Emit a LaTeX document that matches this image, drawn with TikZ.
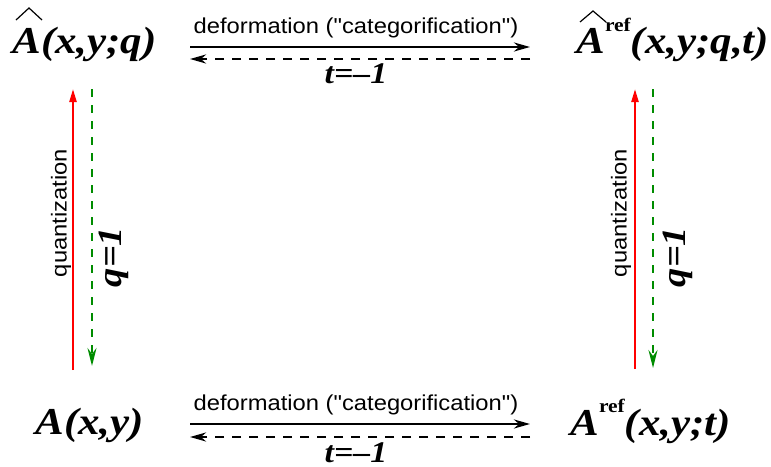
\documentclass[tikz,border=0pt]{standalone}
\usepackage{fontspec}
\setmainfont{Liberation Serif}[FakeStretch=1.13]
\newfontfamily\lblfont{Liberation Sans}[FakeStretch=1.1]
\usetikzlibrary{arrows.meta, positioning}

\definecolor{quantred}{RGB}{255,0,0}
\definecolor{limitgreen}{RGB}{0,140,0}

% raised "ref" after A
\newcommand{\refsup}{\raisebox{0.6em}{\fontsize{9.5}{10}\selectfont\upshape ref}}

\begin{document}
\begin{tikzpicture}[
    x=0.5pt, y=-0.5pt,
    corner/.style={font=\fontsize{19}{22}\selectfont\bfseries\itshape, inner sep=0pt, anchor=base west},
    lbl/.style={font=\lblfont\fontsize{10.8}{12}\selectfont, inner sep=0pt, anchor=base},
    val/.style={font=\fontsize{15}{18}\selectfont\bfseries\itshape, inner sep=0pt, anchor=base},
    vlbl/.style={lbl, anchor=center, rotate=90},
    vval/.style={val, anchor=center, rotate=90, font=\fontsize{17}{18}\selectfont\bfseries\itshape},
    fwd/.style={-{Stealth[length=8pt, width=4.5pt, inset=2.5pt]}, line width=1.2pt},
    back/.style={fwd, dash pattern=on 4.5pt off 4pt},
    quant/.style={-{Triangle[length=6.5pt, width=3.5pt]}, quantred, line width=1.1pt},
    limit/.style={-{Stealth[length=9pt, width=4.5pt, inset=3pt]}, limitgreen, line width=1.1pt, dash pattern=on 4pt off 4pt},
    hatline/.style={line width=0.6pt},
]
\useasboundingbox (0,0) rectangle (771,466);

% Corners
\node[corner] (hatA) at (12,54) {A(x,y;q)};
\node[corner] (hatAref) at (576,54) {A\refsup(x,y;q,t)};
\node[corner] (plainA) at (35,434) {A(x,y)};
\node[corner] (plainAref) at (570,435) {A\refsup(x,y;t)};

% hats
\draw[hatline] ([shift={(4,-34)}]hatA.base west) -- ++(13,-12) -- ++(13,12);
\draw[hatline] ([shift={(4,-32)}]hatAref.base west) -- ++(13,-11) -- ++(13,11);

% Arrow ends
\coordinate (topL1) at (190,47);
\coordinate (topR1) at (530,47);
\coordinate (topL2) at (190,59);
\coordinate (topR2) at (530,59);
\coordinate (botL1) at (190,424);
\coordinate (botR1) at (530,424);
\coordinate (botL2) at (190,437);
\coordinate (botR2) at (530,437);
\coordinate (leftLo) at (73,370);
\coordinate (leftHi) at (73,89);
\coordinate (leftHi2) at (92,89);
\coordinate (leftLo2) at (92,366);
\coordinate (rightLo) at (635,369);
\coordinate (rightHi) at (635,89);
\coordinate (rightHi2) at (653,89);
\coordinate (rightLo2) at (653,368);

% Labels
\node[lbl] (defTop) at (356,33) {deformation ("categorification")};
\node[val] (tTop) at (356,83) {t=–1};
\node[lbl] (defBot) at (356,410) {deformation ("categorification")};
\node[val] (tBot) at (356,462) {t=–1};
\node[vlbl] (quantL) at (61,213) {quantization};
\node[vval] (qL) at (114,257) {q=1};
\node[vlbl] (quantR) at (621,213) {quantization};
\node[vval] (qR) at (678,257) {q=1};

% --- Arrows ---
\draw[fwd] (topL1) -- (topR1);
\draw[back] (topR2) -- (topL2);
\draw[fwd] (botL1) -- (botR1);
\draw[back] (botR2) -- (botL2);

\draw[quant] (leftLo) -- (leftHi);
\draw[limit] (leftHi2) -- (leftLo2);
\draw[quant] (rightLo) -- (rightHi);
\draw[limit] (rightHi2) -- (rightLo2);

\end{tikzpicture}
\end{document}
